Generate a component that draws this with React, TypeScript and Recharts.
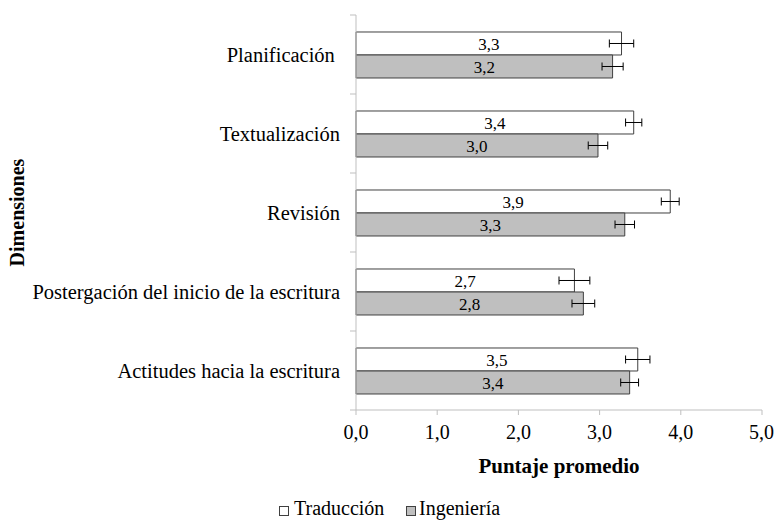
import React from 'react';
import { BarChart, Bar, XAxis, YAxis, ErrorBar, LabelList } from 'recharts';

const categories = [
  'Planificación\u00a0',
  'Textualización',
  'Revisión',
  'Postergación del inicio de la escritura',
  'Actitudes hacia la escritura',
];
const traduccion = [3.27, 3.42, 3.87, 2.69, 3.47];
const traduccionErr = [0.15, 0.1, 0.11, 0.19, 0.15];
const ingenieria = [3.16, 2.98, 3.31, 2.8, 3.37];
const ingenieriaErr = [0.13, 0.12, 0.12, 0.14, 0.11];
const xTicks = [0, 1, 2, 3, 4, 5];
const seriesNames = ['Traducción', 'Ingeniería'];

const data = categories.map((c, i) => ({
  name: c,
  trad: traduccion[i],
  tradErr: traduccionErr[i],
  ing: ingenieria[i],
  ingErr: ingenieriaErr[i],
}));

const W = 774;
const H = 521;
const MARGIN = { top: 15, right: 12, left: 0, bottom: 41 };
const YW = 356;
const XH = 70;
const PLOT_H = H - MARGIN.top - MARGIN.bottom - XH;
const HALF_BAND = PLOT_H / categories.length / 2;
const FONT = 'Liberation Serif';
const AXIS = '#bfbfbf';
const EDGE = '#404040';
const GRAY = '#bfbfbf';

const fmt = (v: number) => v.toFixed(1).replace('.', ',');

const YTick = (props: any) => {
  const { x, y, payload, index } = props;
  const ax = x + 16;
  return (
    <g>
      <text x={x} y={y} dy="0.35em" textAnchor="end" fontFamily={FONT} fontSize={20.5} fill="#000">
        {payload.value}
      </text>
      <line x1={ax - 6} x2={ax} y1={y - HALF_BAND} y2={y - HALF_BAND} stroke={AXIS} />
      {index === categories.length - 1 && (
        <line x1={ax - 6} x2={ax} y1={y + HALF_BAND} y2={y + HALF_BAND} stroke={AXIS} />
      )}
    </g>
  );
};

const YLabel = (props: any) => {
  const { viewBox } = props;
  const cx = viewBox.x + 17;
  const cy = viewBox.y + viewBox.height / 2;
  return (
    <text
      x={cx}
      y={cy}
      transform={`rotate(-90 ${cx} ${cy})`}
      textAnchor="middle"
      dominantBaseline="central"
      fontFamily={FONT}
      fontWeight="bold"
      fontSize={20}
      fill="#000"
    >
      Dimensiones
    </text>
  );
};

export default function App() {
  return (
    <div style={{ position: 'absolute', left: 0, top: 0, width: W, height: H, background: '#fff' }}>
      <BarChart
        width={W}
        height={H}
        data={data}
        layout="vertical"
        margin={MARGIN}
        barCategoryGap="21.5%"
        barGap={0}
      >
        <XAxis
          type="number"
          domain={[0, 5]}
          ticks={xTicks}
          tickFormatter={fmt}
          height={XH}
          stroke={AXIS}
          tickSize={5}
          tickMargin={10}
          tick={{ fill: '#000', fontFamily: FONT, fontSize: 20 }}
          label={{
            value: 'Puntaje promedio',
            position: 'insideBottom',
            offset: 7,
            fill: '#000',
            fontFamily: FONT,
            fontSize: 21,
            fontWeight: 'bold',
          }}
        />
        <YAxis
          type="category"
          dataKey="name"
          width={YW}
          stroke={AXIS}
          tickLine={false}
          tickSize={0}
          tickMargin={16}
          tick={<YTick />}
          interval={0}
          label={<YLabel />}
        />
        <Bar dataKey="trad" name={seriesNames[0]} fill="#ffffff" stroke={EDGE} strokeWidth={1} isAnimationActive={false}>
          <ErrorBar dataKey="tradErr" direction="x" width={4} stroke="#000" strokeWidth={1} />
          <LabelList
            dataKey="trad"
            position="center"
            formatter={(v: any) => fmt(Number(v))}
            fontFamily={FONT}
            fontSize={17}
            fill="#000"
          />
        </Bar>
        <Bar dataKey="ing" name={seriesNames[1]} fill={GRAY} stroke={EDGE} strokeWidth={1} isAnimationActive={false}>
          <ErrorBar dataKey="ingErr" direction="x" width={4} stroke="#000" strokeWidth={1} />
          <LabelList
            dataKey="ing"
            position="center"
            formatter={(v: any) => fmt(Number(v))}
            fontFamily={FONT}
            fontSize={17}
            fill="#000"
          />
        </Bar>
      </BarChart>
      <svg width={W} height={26} style={{ position: 'absolute', left: 0, top: 494 }}>
        <rect x={279.5} y={12.5} width={9} height={9} fill="#fff" stroke={EDGE} />
        <text x={294} y={21} fontFamily={FONT} fontSize={20} fill="#000">{seriesNames[0]}</text>
        <rect x={406.5} y={12.5} width={9} height={9} fill={GRAY} stroke={EDGE} />
        <text x={419} y={21} fontFamily={FONT} fontSize={20} fill="#000">{seriesNames[1]}</text>
      </svg>
    </div>
  );
}
